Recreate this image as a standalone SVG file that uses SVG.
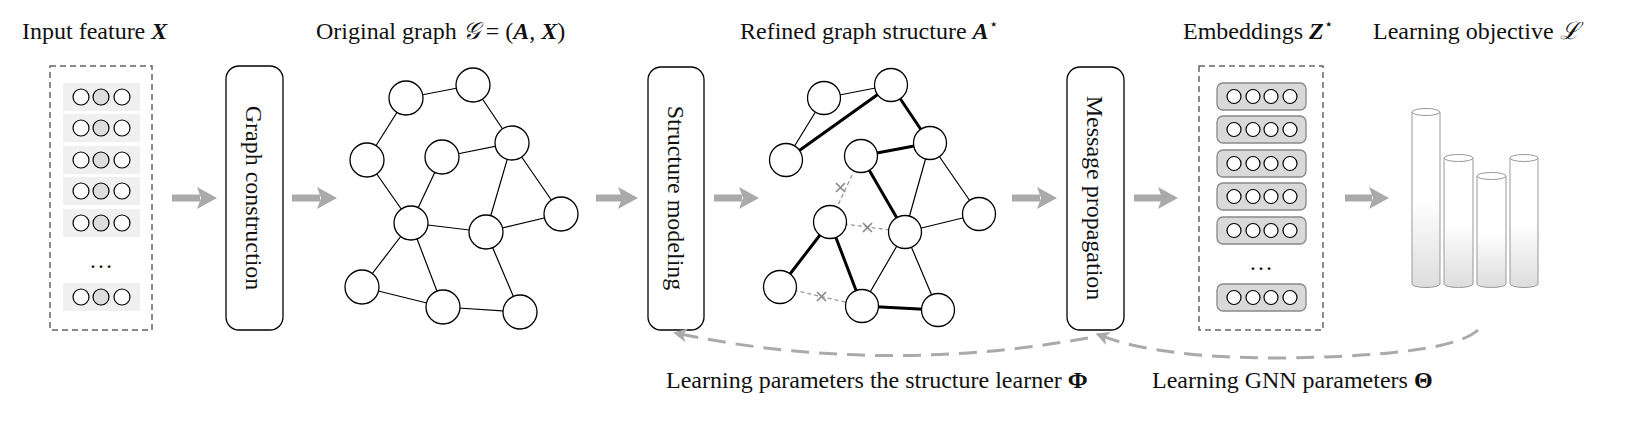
<svg xmlns="http://www.w3.org/2000/svg" width="1639" height="427" viewBox="0 0 1639 427">
<style>
text{font-family:"Liberation Serif","DejaVu Serif",serif;font-size:24px;fill:#111}
.n{fill:#fff;stroke:#000;stroke-width:1.3}
.e{stroke:#000;stroke-width:1.2;fill:none}
.t{stroke:#000;stroke-width:3;fill:none}
.d{stroke:#999;stroke-width:1.3;stroke-dasharray:4 3;fill:none}
.x{stroke:#888;stroke-width:1.6}
.box{fill:#fff;stroke:#000;stroke-width:1.3}
.dash{fill:#fff;stroke:#666;stroke-width:1.5;stroke-dasharray:6 4}
.ga{stroke:#aaa;stroke-width:7}
.ah{fill:#aaa}
.fb{fill:#fff;stroke:#000;stroke-width:1.2}
.fg{fill:#ddd;stroke:#000;stroke-width:1.2}
.row{fill:#f0f0f0}
.erow{fill:#d9d9d9;stroke:#888;stroke-width:1.3}
.cyl{fill:url(#cg);stroke:#999;stroke-width:1}
.ct{fill:#fff;stroke:#999;stroke-width:1}
.fl{stroke:#aaa;stroke-width:3;fill:none;stroke-dasharray:18 10}
</style>
<defs>
<linearGradient id="cg" x1="0" y1="0" x2="0" y2="1"><stop offset="0.5" stop-color="#fff"/><stop offset="1" stop-color="#ddd"/></linearGradient>
<marker id="fa" markerWidth="14" markerHeight="14" refX="7" refY="7" orient="auto" markerUnits="userSpaceOnUse"><path d="M0,0 L14,7 L0,14 L4,7 Z" fill="#aaa"/></marker>
</defs>

<g id="titles">
<text x="22" y="39">Input feature <tspan font-weight="bold" font-style="italic">X</tspan></text>
<text x="316" y="39">Original graph <tspan font-style="italic">𝒢</tspan> = (<tspan font-weight="bold" font-style="italic">A</tspan>, <tspan font-weight="bold" font-style="italic">X</tspan>)</text>
<text x="740" y="39">Refined graph structure  <tspan font-weight="bold" font-style="italic">A</tspan><tspan font-size="15" dy="-10">⋆</tspan></text>
<text x="1183" y="39">Embeddings <tspan font-weight="bold" font-style="italic">Z</tspan><tspan font-size="15" dy="-10">⋆</tspan></text>
<text x="1373" y="39">Learning objective <tspan font-style="italic">ℒ</tspan></text>
<text x="666" y="388">Learning parameters the structure learner <tspan font-weight="bold">Φ</tspan></text>
<text x="1152" y="388">Learning GNN parameters <tspan font-weight="bold">Θ</tspan></text>
</g>

<g id="input">
<rect class="dash" x="50" y="66" width="102" height="264"/>
<g>
<rect class="row" x="63" y="83" width="77" height="28"/><circle class="fb" cx="81" cy="97" r="8"/><circle class="fg" cx="101" cy="97" r="8"/><circle class="fb" cx="122" cy="97" r="8"/>
<rect class="row" x="63" y="114" width="77" height="28"/><circle class="fb" cx="81" cy="128" r="8"/><circle class="fg" cx="101" cy="128" r="8"/><circle class="fb" cx="122" cy="128" r="8"/>
<rect class="row" x="63" y="146" width="77" height="28"/><circle class="fb" cx="81" cy="160" r="8"/><circle class="fg" cx="101" cy="160" r="8"/><circle class="fb" cx="122" cy="160" r="8"/>
<rect class="row" x="63" y="177" width="77" height="28"/><circle class="fb" cx="81" cy="191" r="8"/><circle class="fg" cx="101" cy="191" r="8"/><circle class="fb" cx="122" cy="191" r="8"/>
<rect class="row" x="63" y="209" width="77" height="28"/><circle class="fb" cx="81" cy="223" r="8"/><circle class="fg" cx="101" cy="223" r="8"/><circle class="fb" cx="122" cy="223" r="8"/>
<text x="101" y="268" text-anchor="middle" font-size="18">…</text>
<rect class="row" x="63" y="283" width="77" height="28"/><circle class="fb" cx="81" cy="297" r="8"/><circle class="fg" cx="101" cy="297" r="8"/><circle class="fb" cx="122" cy="297" r="8"/>
</g>
</g>

<g id="graph-construction">
<rect class="box" x="226" y="66" width="57" height="264" rx="13"/>
<text transform="translate(246,198) rotate(90)" text-anchor="middle">Graph construction</text>
</g>
<g id="structure-modeling">
<rect class="box" x="648" y="67" width="56" height="263" rx="13"/>
<text transform="translate(668,198) rotate(90)" text-anchor="middle">Structure modeling</text>
</g>
<g id="message-propagation">
<rect class="box" x="1067" y="67" width="57" height="263" rx="13"/>
<text transform="translate(1087,198) rotate(90)" text-anchor="middle">Message propagation</text>
</g>

<g id="connectors">
<line class="ga" x1="172" y1="198" x2="200" y2="198"/><path class="ah" d="M197,187 L217,198 L197,209 L201,198 Z"/>
<line class="ga" x1="292" y1="198" x2="320" y2="198"/><path class="ah" d="M317,187 L337,198 L317,209 L321,198 Z"/>
<line class="ga" x1="596" y1="198" x2="622" y2="198"/><path class="ah" d="M618,187 L638,198 L618,209 L622,198 Z"/>
<line class="ga" x1="714" y1="198" x2="742" y2="198"/><path class="ah" d="M739,187 L759,198 L739,209 L743,198 Z"/>
<line class="ga" x1="1012" y1="198" x2="1040" y2="198"/><path class="ah" d="M1037,187 L1057,198 L1037,209 L1041,198 Z"/>
<line class="ga" x1="1134" y1="198" x2="1162" y2="198"/><path class="ah" d="M1158,187 L1178,198 L1158,209 L1162,198 Z"/>
<line class="ga" x1="1345" y1="198" x2="1372" y2="198"/><path class="ah" d="M1369,187 L1389,198 L1369,209 L1373,198 Z"/>
<path class="fl" d="M1088,338 Q880,375 680,334" marker-end="url(#fa)"/>
<path class="fl" d="M1478,330 Q1450,356 1280,358 Q1160,358 1102,336" marker-end="url(#fa)"/>
</g>

<g id="original-graph">
<path class="e" d="M406,98L473,85 M406,98L367,160 M473,85L512,143 M442,157L512,143 M367,160L411,223 M442,157L411,223 M512,143L486,232 M512,143L561,214 M411,223L486,232 M486,232L561,214 M411,223L362,287 M411,223L443,307 M486,232L520,312 M362,287L443,307 M443,307L520,312"/>
<circle class="n" cx="406" cy="98" r="17"/><circle class="n" cx="473" cy="85" r="17"/><circle class="n" cx="367" cy="160" r="17"/><circle class="n" cx="442" cy="157" r="17"/><circle class="n" cx="512" cy="143" r="17"/><circle class="n" cx="411" cy="223" r="17"/><circle class="n" cx="486" cy="232" r="17"/><circle class="n" cx="561" cy="214" r="17"/><circle class="n" cx="362" cy="287" r="17"/><circle class="n" cx="443" cy="307" r="17"/><circle class="n" cx="520" cy="312" r="17"/>
</g>

<g id="refined-graph">
<path class="e" d="M824,98L891,85 M824,98L786,160 M930,143L905,232 M930,143L979,214 M905,232L979,214 M905,232L862,306 M905,232L938,310"/>
<path class="t" d="M786,160L891,85 M891,85L930,143 M861,156L930,143 M861,156L905,232 M830,222L780,287 M830,222L862,306 M862,306L938,310"/>
<path class="d" d="M861,156L830,222 M830,222L905,232 M780,287L862,306"/>
<path class="x" d="M836,183l9,9m0,-9l-9,9 M863,223l9,9m0,-9l-9,9 M817,292l9,9m0,-9l-9,9"/>
<circle class="n" cx="824" cy="98" r="16.5"/><circle class="n" cx="891" cy="85" r="16.5"/><circle class="n" cx="786" cy="160" r="16.5"/><circle class="n" cx="861" cy="156" r="16.5"/><circle class="n" cx="930" cy="143" r="16.5"/><circle class="n" cx="830" cy="222" r="16.5"/><circle class="n" cx="905" cy="232" r="16.5"/><circle class="n" cx="979" cy="214" r="16.5"/><circle class="n" cx="780" cy="287" r="16.5"/><circle class="n" cx="862" cy="306" r="16.5"/><circle class="n" cx="938" cy="310" r="16.5"/>
</g>

<g id="embeddings">
<rect class="dash" x="1199" y="66" width="124" height="264"/>
<g>
<rect class="erow" x="1217" y="83" width="89" height="27" rx="6"/><circle class="fb" cx="1234" cy="96.5" r="7"/><circle class="fb" cx="1253" cy="96.5" r="7"/><circle class="fb" cx="1271" cy="96.5" r="7"/><circle class="fb" cx="1290" cy="96.5" r="7"/>
<rect class="erow" x="1217" y="116" width="89" height="27" rx="6"/><circle class="fb" cx="1234" cy="129.5" r="7"/><circle class="fb" cx="1253" cy="129.5" r="7"/><circle class="fb" cx="1271" cy="129.5" r="7"/><circle class="fb" cx="1290" cy="129.5" r="7"/>
<rect class="erow" x="1217" y="150" width="89" height="27" rx="6"/><circle class="fb" cx="1234" cy="163.5" r="7"/><circle class="fb" cx="1253" cy="163.5" r="7"/><circle class="fb" cx="1271" cy="163.5" r="7"/><circle class="fb" cx="1290" cy="163.5" r="7"/>
<rect class="erow" x="1217" y="183" width="89" height="27" rx="6"/><circle class="fb" cx="1234" cy="196.5" r="7"/><circle class="fb" cx="1253" cy="196.5" r="7"/><circle class="fb" cx="1271" cy="196.5" r="7"/><circle class="fb" cx="1290" cy="196.5" r="7"/>
<rect class="erow" x="1217" y="217" width="89" height="27" rx="6"/><circle class="fb" cx="1234" cy="230.5" r="7"/><circle class="fb" cx="1253" cy="230.5" r="7"/><circle class="fb" cx="1271" cy="230.5" r="7"/><circle class="fb" cx="1290" cy="230.5" r="7"/>
<text x="1261" y="270" text-anchor="middle" font-size="18">…</text>
<rect class="erow" x="1217" y="284" width="89" height="27" rx="6"/><circle class="fb" cx="1234" cy="297.5" r="7"/><circle class="fb" cx="1253" cy="297.5" r="7"/><circle class="fb" cx="1271" cy="297.5" r="7"/><circle class="fb" cx="1290" cy="297.5" r="7"/>
</g>
</g>

<g id="objective">
<path class="cyl" d="M1412,112 V284 A14,3.5 0 0 0 1440,284 V112 Z"/><ellipse class="ct" cx="1426" cy="112" rx="14" ry="3.5"/>
<path class="cyl" d="M1444,158 V284 A14.5,3.5 0 0 0 1473,284 V158 Z"/><ellipse class="ct" cx="1458.5" cy="158" rx="14.5" ry="3.5"/>
<path class="cyl" d="M1477,176 V284 A14.5,3.5 0 0 0 1506,284 V176 Z"/><ellipse class="ct" cx="1491.5" cy="176" rx="14.5" ry="3.5"/>
<path class="cyl" d="M1510,158 V284 A14,3.5 0 0 0 1538,284 V158 Z"/><ellipse class="ct" cx="1524" cy="158" rx="14" ry="3.5"/>
</g>
</svg>
